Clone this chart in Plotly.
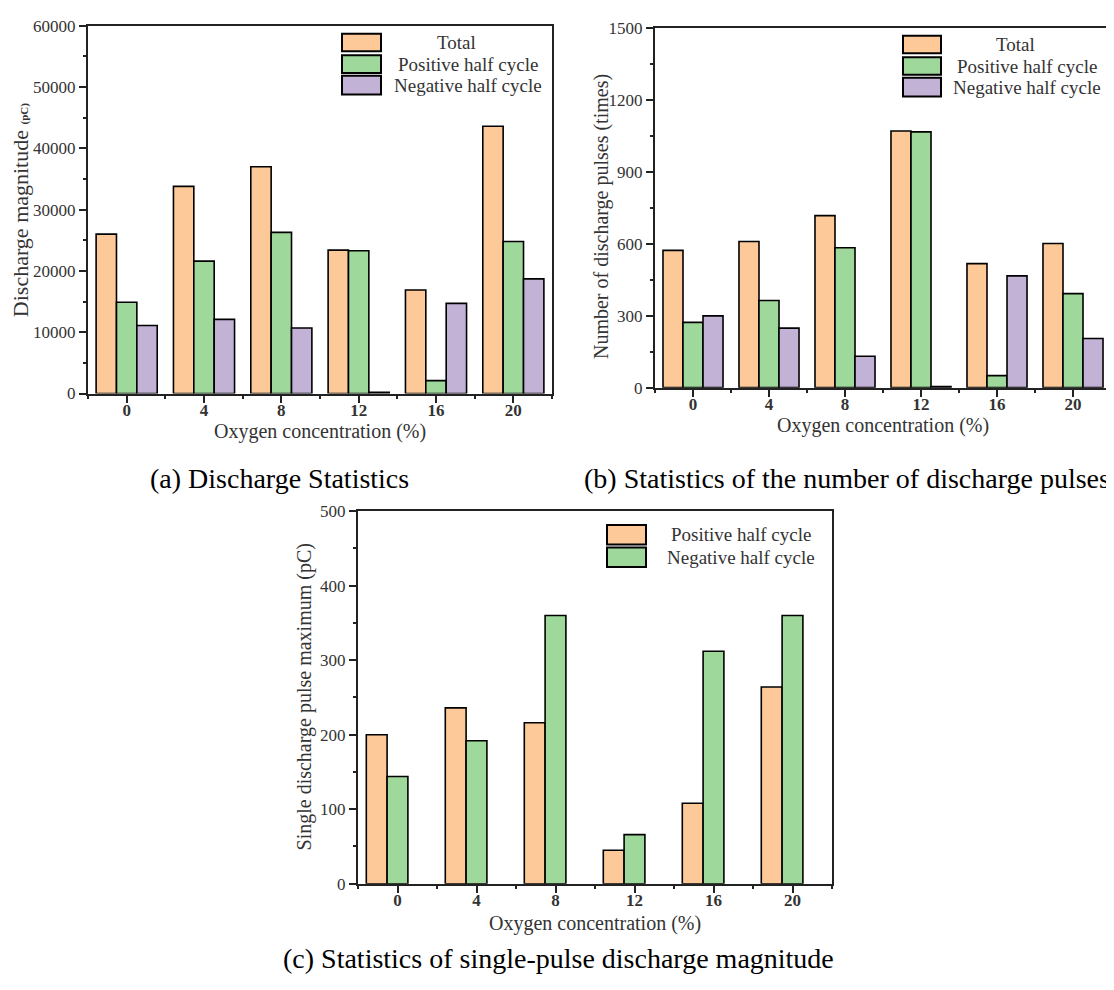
import plotly.graph_objects as go

# The page body has an 8px margin, so the figure is slightly smaller than the
# window and every position below is given in window pixels, minus that margin.
OFF = 8
W, H = 1106, 974
SERIF = "Liberation Serif"

# ---------------- data ----------------
oxygen = [0, 4, 8, 12, 16, 20]
series_ab = ["Total", "Positive half cycle", "Negative half cycle"]
series_c = ["Positive half cycle", "Negative half cycle"]

a_total = [26000, 33800, 37000, 23400, 16900, 43600]
a_pos = [14900, 21600, 26300, 23300, 2100, 24800]
a_neg = [11100, 12100, 10700, 200, 14700, 18700]

b_total = [572, 609, 717, 1070, 517, 601]
b_pos = [272, 363, 583, 1066, 50, 392]
b_neg = [299, 248, 131, 4, 466, 205]

c_pos = [200, 236, 216, 45, 108, 264]
c_neg = [144, 192, 360, 66, 312, 360]

captions = ["(a) Discharge Statistics",
            "(b) Statistics of the number of discharge pulses",
            "(c) Statistics of single-pulse discharge magnitude"]
x_title = "Oxygen concentration (%)"

COLORS = ["#FDC998", "#9ED89B", "#C2B2D6"]
AX = "#222222"
TXT = "#333333"


def px(x):
    return (x - OFF) / W


def py(y):
    return 1 - (y - OFF) / H


fig = go.Figure()


def add_bars(values, names, colors, xa, ya):
    for v, n, c in zip(values, names, colors):
        fig.add_trace(go.Bar(x=oxygen, y=v, name=n, showlegend=False,
                             marker=dict(color=c, line=dict(color="black", width=1.6)),
                             xaxis=xa, yaxis=ya))


add_bars([a_total, a_pos, a_neg], series_ab, COLORS, "x", "y")
add_bars([b_total, b_pos, b_neg], series_ab, COLORS, "x2", "y2")
add_bars([c_pos, c_neg], series_c, COLORS[:2], "x3", "y3")
# empty third slot in panel (c) (the original keeps a three-bar grouping)
fig.add_trace(go.Bar(x=oxygen, y=[None] * len(oxygen), showlegend=False,
                     marker=dict(color="rgba(0,0,0,0)", line=dict(width=0)),
                     hoverinfo="skip", xaxis="x3", yaxis="y3"))


def xax(x0, x1, anchor):
    return dict(domain=[px(x0), px(x1)], anchor=anchor, range=[-2, 22],
                tickmode="linear", tick0=0, dtick=4,
                ticks="outside", ticklen=7, tickwidth=2, tickcolor=AX,
                ticklabelstandoff=-7,
                showline=True, linewidth=2, linecolor=AX, mirror=True,
                showgrid=False, zeroline=False,
                tickfont=dict(family=SERIF, size=17, color=TXT, weight="bold"),
                minor=dict(tickmode="linear", tick0=2, dtick=4, ticks="outside",
                           ticklen=3, tickwidth=2, tickcolor=AX, showgrid=False))


def yax(y0, y1, anchor, top, dt, mdt):
    return dict(domain=[py(y1), py(y0)], anchor=anchor, range=[0, top],
                tickmode="linear", tick0=0, dtick=dt, tickformat="d",
                ticks="outside", ticklen=7, tickwidth=2, tickcolor=AX,
                showline=True, linewidth=2, linecolor=AX, mirror=True,
                showgrid=False, zeroline=False,
                tickfont=dict(family=SERIF, size=17, color=TXT),
                minor=dict(tickmode="linear", tick0=0, dtick=mdt, ticks="outside",
                           ticklen=3, tickwidth=2, tickcolor=AX, showgrid=False))


fig.update_layout(
    width=W, height=H, margin=dict(l=0, r=0, t=0, b=0),
    paper_bgcolor="white", plot_bgcolor="white",
    barmode="group", bargap=0.21, bargroupgap=0,
    xaxis=xax(88, 552, "y"),
    yaxis=yax(17, 392, "x", 60000, 10000, 5000),
    xaxis2=xax(655, 1111, "y2"),
    yaxis2=yax(19, 386, "x2", 1500, 300, 150),
    xaxis3=xax(358, 832, "y3"),
    yaxis3=yax(512, 892, "x3", 500, 100, 50),
)

ann = []
shapes = []


def text(x, y, s, size, color=TXT, angle=0, xanchor="center"):
    ann.append(dict(x=px(x), y=py(y), xref="paper", yref="paper", text=s,
                    showarrow=False, textangle=angle, xanchor=xanchor, yanchor="middle",
                    font=dict(family=SERIF, size=size, color=color)))


# axis titles
text(320, 431, x_title, 20)
text(883, 425, x_title, 20)
text(595, 933, x_title, 20)
text(20, 205, "Discharge magnitude <span style='font-size:11px'><b>(pC)</b></span>", 22, angle=-90)
text(601, 212, "Number of discharge pulses (times)", 20, angle=-90)
text(304, 702, "Single discharge pulse maximum (pC)", 20, angle=-90)

# captions
text(279, 479, captions[0], 28, color="black")
text(847, 479, captions[1], 28, color="black")
text(558, 968, captions[2], 28, color="black")


# legends
def legend(x0, x1, ys, names, colors, centers):
    for (ya, yb), n, c, cx in zip(ys, names, colors, centers):
        shapes.append(dict(type="rect", xref="paper", yref="paper",
                           x0=px(x0), x1=px(x1), y0=py(yb), y1=py(ya),
                           fillcolor=c, line=dict(color="black", width=2)))
        text(cx, (ya + yb) / 2, n, 19)


legend(342, 381, [(25, 43), (47, 65), (68, 87)], series_ab, COLORS, [456, 468, 468])
legend(903, 941, [(27, 45), (49, 67), (70, 89)], series_ab, COLORS, [1015, 1027, 1027])
legend(607, 646, [(526, 546), (549, 569)], series_c, COLORS[:2], [741, 741])

fig.update_layout(annotations=ann, shapes=shapes)
fig.write_html("out.html")
